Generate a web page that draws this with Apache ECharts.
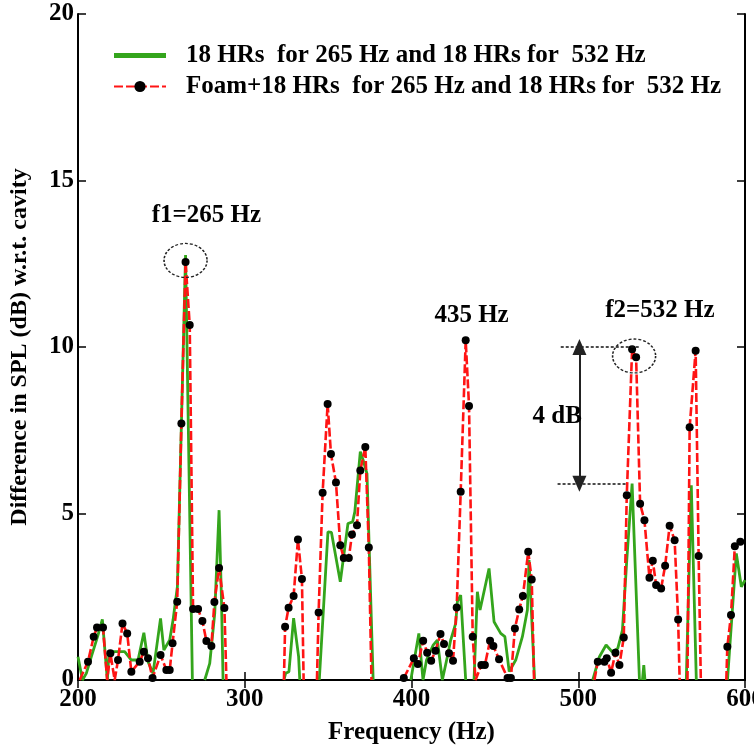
<!DOCTYPE html>
<html>
<head>
<meta charset="utf-8">
<script src="https://cdn.jsdelivr.net/npm/echarts@6/dist/echarts.min.js"></script>
<style>
  html, body { margin: 0; padding: 0; background: #fff; }
  #chart { width: 754px; height: 750px; }
</style>
</head>
<body>
<div id="chart"></div>
<script>
  // Foam + 18 HRs (red dashed, black dots); null = break in the line
  const foamFreq = [201, 206, 209.4, 211.4, 215, 217.5, 219.4, 222, 224, 226.7, 229.5, 232, 237, 239.5, 242, 244.7,
    249.5, 253, 255, 256.7, 259.5, 262, 264.5, 267, 269, 272, 274.6, 277, 280, 281.8, 284.6, 287.8, 289, null,
    323.5, 324.2, 326.3, 329.3, 331.9, 334.3, 335.3, null,
    343.3, 344.3, 346.7, 349.7, 351.7, 354.7, 357.3, 359.4, 362.4, 364.3, 367.3, 369.3, 372.3, 374.4, 376, null,
    395.4, 401.4, 403.8, 407, 409.4, 411.8, 414.4, 417.4, 419.5, 422.5, 424.9, 427.1, 429.5, 432.5, 434.5, 436.7, 438.4,
    441.9, 444, 447.1, 449.1, 452.5, 457.6, 459.6, 462, 464.6, 466.8, 470, 472.1, 473.5, null,
    509.7, 511.7, 515.7, 517.1, 519.7, 522.3, 524.7, 527.3, 529.1, 532.3, 534.7, 537.1, 539.7, 542.7, 544.7, 546.7,
    549.7, 552.1, 554.8, 557.8, 559.9, 560.8, null,
    565.5, 566.8, 570.4, 572.2, 573.5, null,
    588.8, 589.4, 591.6, 593.9, 597.2];
  const foamSpl = [0, 0.55, 1.3, 1.58, 1.58, 0, 0.8, 0, 0.6, 1.7, 1.4, 0.25, 0.55, 0.85, 0.65, 0.06,
    0.75, 0.3, 0.3, 1.1, 2.35, 7.7, 12.55, 10.66, 2.13, 2.13, 1.77, 1.17, 1.02, 2.34, 3.36, 2.16, 0, null,
    0, 1.6, 2.17, 2.52, 4.22, 3.03, 0, null,
    0, 2.03, 5.62, 8.29, 6.79, 5.93, 4.05, 3.66, 3.66, 4.37, 4.65, 6.29, 7.0, 3.98, 0, null,
    0.06, 0.65, 0.48, 1.18, 0.82, 0.58, 0.88, 1.38, 1.08, 0.8, 0.58, 2.18, 5.65, 10.2, 8.23, 1.3, 0,
    0.45, 0.45, 1.18, 1.02, 0.62, 0.06, 0.06, 1.55, 2.12, 2.52, 3.85, 3.02, 0, null,
    0, 0.55, 0.55, 0.65, 0.22, 0.82, 0.45, 1.28, 5.55, 9.93, 9.69, 5.29, 4.8, 3.07, 3.58, 2.85,
    2.75, 3.43, 4.63, 4.2, 1.82, 0, null,
    0, 7.59, 9.89, 3.72, 0, null,
    0, 1.0, 1.95, 4.02, 4.15];

  // 18 HRs only (green solid)
  const hrFreq = [200, 202.7, 205, 208, 212, 214.6, 217.6, 218.6, 221, 228, 232, 236, 239.5, 242, 245, 249.5,
    251.5, 255, 257, 259.6, 264.5, 268.6, null,
    276, 279, 282, 284.6, 286, 287, null,
    323.5, 324.5, 326.5, 329.3, 332.3, 333, null,
    344.7, 349.9, 352, 357.3, 361.9, 364.7, 366, 369.3, 371, 373.3, 377, null,
    399.6, 404.4, 406.9, 409, 413, 415.5, 418.5, 421.5, 423.5, 426.5, 427.5, 429.5, 432.5, null,
    437.5, 439.5, 441.1, 446.5, 449.5, 453.5, 456, 458.6, 462.5, 466.5, 469.5, 470.5, 473.8, null,
    508.7, 512.7, 516.7, 520.3, 523.7, 526.5, 529.1, 532.3, 536.7, null,
    538.5, 539.3, 540, null,
    564.8, 567.8, 570.8, null,
    589.5, 594.8, 597.8, 600];
  const hrSpl = [0.7, 0, 0.2, 0.7, 1.35, 1.82, 0, 0.85, 0.85, 0.85, 0.6, 0.6, 1.42, 0.55, 0.2, 1.85,
    0.9, 1.2, 1.8, 2.8, 12.76, 0, null,
    0, 0.5, 2.0, 5.1, 2.5, 0, null,
    0, 0.2, 0.25, 1.86, 0.7, 0, null,
    0, 4.45, 4.43, 2.95, 4.7, 4.75, 5.05, 6.86, 6.6, 6.2, 0, null,
    0, 1.4, 0, 0.6, 1.05, 1.2, 0, 0.7, 1.2, 1.7, 2.35, 2.55, 0, null,
    0, 2.65, 2.1, 3.35, 1.75, 1.4, 1.3, 0.25, 0.6, 1.3, 2.1, 3.6, 0, null,
    0, 0.7, 1.05, 0.85, 0.95, 1.5, 3.6, 5.9, 0, null,
    0, 0.45, 0, null,
    0, 5.85, 0, null,
    0, 3.8, 2.8, 3.0];

  const xTicks = [200, 300, 400, 500, 600];
  const yTicks = [0, 5, 10, 15, 20];
  const hrName = '18 HRs  for 265 Hz and 18 HRs for  532 Hz';
  const foamName = 'Foam+18 HRs  for 265 Hz and 18 HRs for  532 Hz';

  const font = '"Liberation Serif", "Times New Roman", serif';

  function toData(fs, vs, dots) {
    return fs.map(function (f, i) {
      if (f === null) return { value: ['-', '-'] };
      const item = { value: [f, vs[i]] };
      if (dots && vs[i] === 0) item.symbol = 'none';
      return item;
    });
  }

  const myChart = echarts.init(document.getElementById('chart'));

  const axisCommon = {
    type: 'value',
    axisLine: { show: true, lineStyle: { color: '#000', width: 2 } },
    axisTick: { show: true, inside: true, length: 8, lineStyle: { color: '#000', width: 1.5 } },
    splitLine: { show: false }
  };

  let option = {
    backgroundColor: '#fff',
    animation: false,
    grid: { left: 78, right: 9, top: 14, bottom: 70, outerBoundsMode: 'none', containLabel: false },
    legend: {
      orient: 'vertical',
      left: 108,
      top: 38,
      itemWidth: 52,
      itemHeight: 14,
      itemGap: 6,
      textStyle: { fontFamily: font, fontWeight: 'bold', fontSize: 25, color: '#000', lineHeight: 24, padding: [0, 0, 0, 15] },
      data: [
        { name: hrName, icon: 'path://M0,0H50V5H0Z' },
        { name: foamName }
      ]
    },
    xAxis: [
      Object.assign({}, axisCommon, {
        min: 200, max: 600, interval: 100,
        name: 'Frequency (Hz)', nameLocation: 'middle', nameGap: 40,
        nameTextStyle: { fontFamily: font, fontWeight: 'bold', fontSize: 25, color: '#000' },
        axisLabel: { margin: 7, fontFamily: font, fontWeight: 'bold', fontSize: 25, color: '#000',
          formatter: function (v) { return xTicks.indexOf(v) >= 0 ? String(v) : ''; } }
      }),
      Object.assign({}, axisCommon, { position: 'top', min: 200, max: 600, interval: 100, axisLabel: { show: false } })
    ],
    yAxis: [
      Object.assign({}, axisCommon, {
        min: 0, max: 20, interval: 5,
        name: 'Difference in SPL (dB) w.r.t. cavity', nameLocation: 'middle', nameGap: 46,
        nameTextStyle: { fontFamily: font, fontWeight: 'bold', fontSize: 24, color: '#000' },
        axisLabel: { margin: 4, fontFamily: font, fontWeight: 'bold', fontSize: 25, color: '#000',
          formatter: function (v) { return yTicks.indexOf(v) >= 0 ? String(v) : ''; } }
      }),
      Object.assign({}, axisCommon, { position: 'right', min: 0, max: 20, interval: 5, axisLabel: { show: false } })
    ],
    series: [
      {
        name: hrName,
        type: 'line',
        z: 2,
        symbol: 'none',
        connectNulls: false,
        lineStyle: { color: '#34a51c', width: 2.8 },
        itemStyle: { color: '#34a51c' },
        data: toData(hrFreq, hrSpl, false)
      },
      {
        name: foamName,
        type: 'line',
        z: 3,
        symbol: 'circle',
        symbolSize: 8,
        connectNulls: false,
        lineStyle: { color: '#ff1414', width: 2.6, type: [9, 3] },
        itemStyle: { color: '#000' },
        data: toData(foamFreq, foamSpl, true),
        markLine: {
          silent: true,
          animation: false,
          label: { show: false },
          symbol: ['none', 'none'],
          data: [
            [{ coord: [489.5, 10], lineStyle: { color: '#111', width: 1.5, type: [3, 2] } }, { coord: [537, 10] }],
            [{ coord: [487.6, 5.89], lineStyle: { color: '#111', width: 1.5, type: [3, 2] } }, { coord: [528.7, 5.89] }],
            [{ coord: [500.7, 10], symbol: 'triangle', symbolSize: [14, 16], lineStyle: { color: '#222', width: 2, type: 'solid' } },
             { coord: [500.7, 5.89], symbol: 'triangle', symbolSize: [14, 16] }]
          ]
        }
      }
    ]
  };

  myChart.setOption(option);

  // annotations placed from data coordinates
  function px(f, v) { return myChart.convertToPixel({ xAxisIndex: 0, yAxisIndex: 0 }, [f, v]); }
  function label(f, v, text) {
    const p = px(f, v);
    return { type: 'text', x: p[0], y: p[1], z: 10,
      style: { text: text, font: 'bold 25px ' + font, fill: '#000', align: 'center', verticalAlign: 'middle',
        textAlign: 'center', textVerticalAlign: 'middle' } };
  }
  function ring(f, v) {
    const p = px(f, v);
    return { type: 'circle', x: p[0], y: p[1], z: 10, scaleY: 0.79, shape: { cx: 0, cy: 0, r: 21.5 },
      style: { fill: 'none', stroke: '#222', lineWidth: 1.6, lineDash: [3, 2] } };
  }

  myChart.setOption({
    graphic: [
      label(277, 13.96, 'f1=265 Hz'),
      ring(264.5, 12.6),
      label(436, 10.93, '435 Hz'),
      label(549, 11.08, 'f2=532 Hz'),
      ring(533.5, 9.73),
      label(487.4, 7.9, '4 dB')
    ]
  });

  window.addEventListener('resize', function () {
    myChart.resize();
  });
</script>
</body>
</html>
